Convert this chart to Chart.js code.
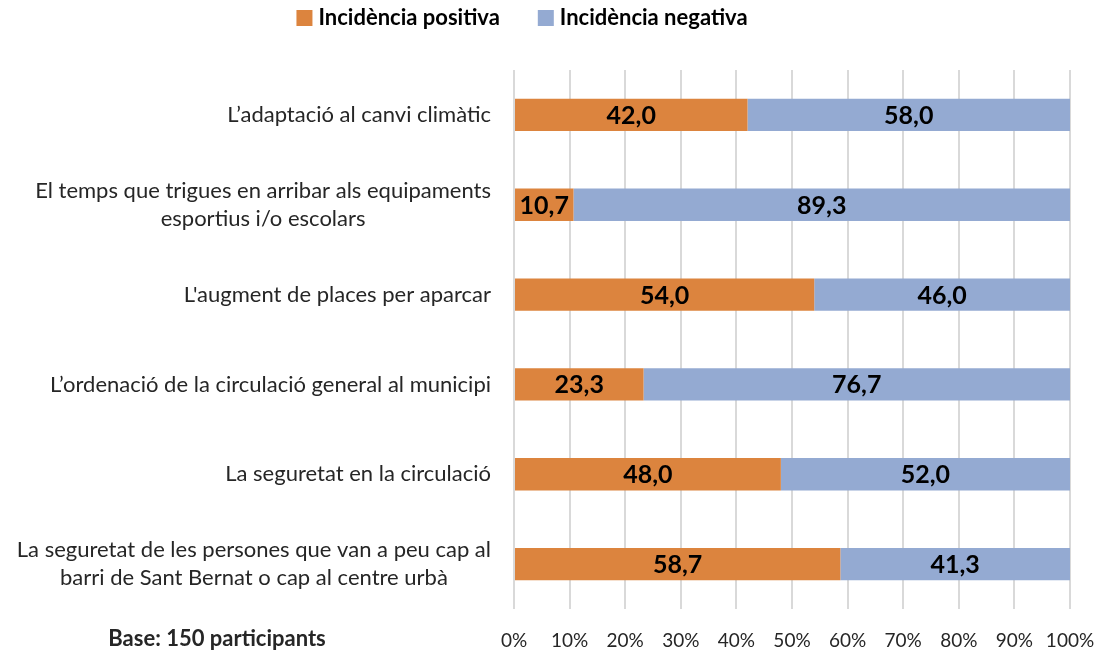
<!DOCTYPE html>
<html>
<head>
<meta charset="utf-8">
<script src="https://cdn.jsdelivr.net/npm/chart.js@4"></script>
<style>
  html, body { margin: 0; padding: 0; background: #fff; }
  #wrap { width: 1101px; height: 651px; }
</style>
</head>
<body>
<div id="wrap"><canvas id="chart"></canvas></div>
<script>
const categories = [
  "L’adaptació al canvi climàtic",
  ["El temps que trigues en arribar als equipaments", "esportius i/o escolars"],
  "L'augment de places per aparcar",
  "L’ordenació de la circulació general al municipi",
  "La seguretat en la circulació",
  ["La seguretat de les persones que van a peu cap al", "barri de Sant Bernat o cap al centre urbà"]
];
const positiva = [42.0, 10.7, 54.0, 23.3, 48.0, 58.7];
const negativa = [58.0, 89.3, 46.0, 76.7, 52.0, 41.3];
const seriesNames = ["Incidència positiva", "Incidència negativa"];
const seriesColors = ["#dc843e", "#94aad2"];
const baseNote = "Base: 150 participants";

const FONT = "Lato, 'Open Sans', sans-serif";

// legend drawn by hand so the spacing matches Excel's
const topLegend = {
  id: "topLegend",
  afterDraw(chart) {
    const ctx = chart.ctx;
    ctx.save();
    ctx.font = "bold 22px " + FONT;
    ctx.textBaseline = "middle";
    ctx.textAlign = "left";
    const box = 16, gap = 6, sep = 38;
    const widths = seriesNames.map(n => ctx.measureText(n).width);
    const total = widths.reduce((a, w) => a + box + gap + w, 0) + sep;
    let x = 522 - total / 2;
    const cy = 18;
    seriesNames.forEach((n, i) => {
      ctx.fillStyle = seriesColors[i];
      ctx.fillRect(x, cy - box / 2, box, box);
      ctx.fillStyle = "#000";
      ctx.fillText(n, x + box + gap, cy);
      x += box + gap + widths[i] + sep;
    });
    ctx.restore();
  }
};

// category labels: each label block right aligned, lines centred inside it
const catLabels = {
  id: "catLabels",
  afterDraw(chart) {
    const ctx = chart.ctx;
    const yScale = chart.scales.y;
    ctx.save();
    ctx.font = "22px " + FONT;
    ctx.fillStyle = "#262626";
    ctx.textAlign = "center";
    ctx.textBaseline = "middle";
    const right = 491;
    const lh = 28;
    categories.forEach((lab, i) => {
      const lines = Array.isArray(lab) ? lab : [lab];
      const widest = Math.max(...lines.map(l => ctx.measureText(l).width));
      const cx = right - widest / 2;
      const cy = yScale.getPixelForTick(i);
      lines.forEach((l, k) => {
        ctx.fillText(l, cx, cy + (k - (lines.length - 1) / 2) * lh);
      });
    });
    ctx.font = "bold 22px " + FONT;
    ctx.fillText(baseNote, 217, 639);
    ctx.restore();
  }
};

// values in the middle of every segment
const barValues = {
  id: "barValues",
  afterDatasetsDraw(chart) {
    const ctx = chart.ctx;
    ctx.save();
    ctx.font = "bold 25px " + FONT;
    ctx.fillStyle = "#000";
    ctx.textAlign = "center";
    ctx.textBaseline = "middle";
    chart.data.datasets.forEach((ds, di) => {
      chart.getDatasetMeta(di).data.forEach((bar, i) => {
        const x = (bar.x + bar.base) / 2;
        ctx.fillText(ds.data[i].toFixed(1).replace(".", ","), x, bar.y + 1);
      });
    });
    ctx.restore();
  }
};

new Chart(document.getElementById("chart"), {
  type: "bar",
  data: {
    labels: categories,
    datasets: [
      { label: seriesNames[0], data: positiva, backgroundColor: seriesColors[0] },
      { label: seriesNames[1], data: negativa, backgroundColor: seriesColors[1] }
    ]
  },
  options: {
    indexAxis: "y",
    responsive: true,
    maintainAspectRatio: false,
    animation: false,
    layout: { padding: { top: 70, left: 0, right: 31, bottom: 0 } },
    datasets: { bar: { barPercentage: 0.36, categoryPercentage: 1.0 } },
    plugins: {
      legend: { display: false },
      tooltip: { enabled: false }
    },
    scales: {
      x: {
        stacked: true,
        min: 0,
        max: 100,
        border: { display: false },
        grid: { color: "#d9d9d9", lineWidth: 2, drawTicks: false },
        ticks: {
          stepSize: 10,
          padding: 20,
          color: "#262626",
          font: { family: FONT, size: 19 },
          callback: v => v + "%"
        },
        afterFit: s => {
          s.height = 42;
          s.paddingLeft = 0;
          s.paddingRight = 0;
        }
      },
      y: {
        stacked: true,
        border: { display: false },
        grid: { display: false },
        ticks: { display: false },
        afterFit: s => { s.width = 514; }
      }
    }
  },
  plugins: [topLegend, catLabels, barValues]
});
</script>
</body>
</html>
